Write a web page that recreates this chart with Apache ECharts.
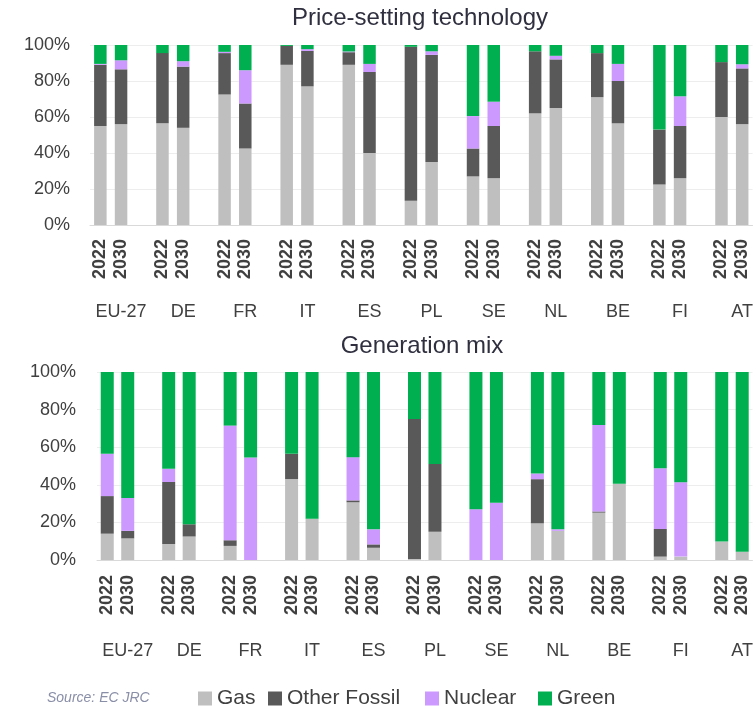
<!DOCTYPE html>
<html>
<head>
<meta charset="utf-8">
<style>
html,body{margin:0;padding:0;background:#fff;}
#chart{width:756px;height:708px;}
</style>
<script src="https://cdn.jsdelivr.net/npm/echarts@6/dist/echarts.min.js"></script>
</head>
<body>
<div id="chart"></div>
<script>
// ---- data ----
const countries = ['EU-27','DE','FR','IT','ES','PL','SE','NL','BE','FI','AT'];
const years = ['2022','2030'];
const seriesNames = ['Gas','Other Fossil','Nuclear','Green'];
const colors = ['#BFBFBF','#595959','#CC99FF','#00B050'];
const yTickLabels = ['0%','20%','40%','60%','80%','100%'];

// Price-setting technology (each pair: 2022, 2030 per country)
const priceGas     = [55,56, 56.5,54, 72.5,42.5, 89,77, 89,40, 13.5,35, 27,26, 62,65, 71,56.5, 22.5,26, 60,56];
const priceOther   = [34,30.5, 39,34, 23,25, 10.5,19.7, 7,45, 85.5,59.5, 15.5,29, 34.5,27, 24.5,23.5, 30.5,29, 30.5,31];
const priceNuclear = [0.5,5, 0,3, 0.7,18.5, 0,1, 0.4,4.5, 0,2, 18,13.5, 0,2, 0,9.5, 0,16.5, 0,2.3];
const priceGreen   = [10.5,8.5, 4.5,9, 3.8,14, 0.5,2.3, 3.6,10.5, 1,3.5, 39.5,31.5, 3.5,6, 4.5,10.5, 47,28.5, 9.5,10.7];

// Generation mix
const genGas     = [14,11.5, 8.5,12.5, 7.5,0, 43,22, 30.7,6.5, 0.5,15, 0,0, 19.5,15.5, 25.2,40.5, 1.8,1.8, 9.8,4.4];
const genOther   = [20,4, 33,6.5, 3,0, 13.5,0, 1,1.8, 74.5,36, 0,0, 23.5,0, 0.6,0, 14.7,0, 0,0];
const genNuclear = [22.5,17.5, 7,0, 61,54.5, 0,0, 23,8, 0,0, 27,30.5, 3,0.8, 46,0, 32.3,39.6, 0,0];
const genGreen   = [43.5,67, 51.5,81, 28.5,45.5, 43.5,78, 45.3,83.7, 25,49, 73,69.5, 54,83.7, 28.2,59.5, 51.2,58.6, 90.2,95.6];

// ---- build slot categories (2022, 2030, gap) ----
const slots = [];
countries.forEach((c, i) => {
  years.forEach(y => slots.push(c + '|' + y));
  if (i < countries.length - 1) slots.push('gap' + i);
});
function toSlots(arr) {
  const out = [];
  countries.forEach((c, i) => {
    out.push(arr[2 * i], arr[2 * i + 1]);
    if (i < countries.length - 1) out.push('-');
  });
  return out;
}
const FONT = "'Liberation Sans', Arial, sans-serif";
const TXT = '#404040';

const grids = [
  {left: 90, right: 2, top: 45, height: 180},
  {left: 97, right: 1, top: 372, height: 188}
];
const yearMargins = [14, 15];
const countryMargins = [78, 82];
const yMargins = [20, 21];
const barWidths = [12.5, 13];

const xAxes = [], yAxes = [];
grids.forEach((g, gi) => {
  xAxes.push({
    type: 'category', gridIndex: gi, data: slots,
    axisLine: {show: true, lineStyle: {color: '#D9D9D9'}},
    axisTick: {show: false},
    axisLabel: {
      interval: 0, rotate: 90, margin: yearMargins[gi],
      fontFamily: FONT, fontSize: 18, fontWeight: 'bold', color: TXT,
      formatter: v => v.indexOf('|') >= 0 ? v.split('|')[1] : ''
    }
  });
  xAxes.push({
    type: 'category', gridIndex: gi, data: slots, position: 'bottom',
    axisLine: {show: false}, axisTick: {show: false},
    axisLabel: {
      interval: 0, margin: countryMargins[gi],
      fontFamily: FONT, fontSize: 18, color: TXT,
      formatter: v => (v.indexOf('|') >= 0 && v.split('|')[1] === '2030') ? v.split('|')[0] : ''
    }
  });
  yAxes.push({
    type: 'value', gridIndex: gi, min: 0, max: 100, interval: 20,
    axisLine: {show: false}, axisTick: {show: false},
    splitLine: {show: true, lineStyle: {color: '#EDEDED', width: 1}},
    axisLabel: {
      margin: yMargins[gi], fontFamily: FONT, fontSize: 18, color: TXT,
      formatter: v => yTickLabels[Math.round(v / 20)]
    }
  });
});

const dataSets = [
  [priceGas, priceOther, priceNuclear, priceGreen],
  [genGas, genOther, genNuclear, genGreen]
];
const series = [];
dataSets.forEach((set, gi) => {
  set.forEach((arr, si) => {
    series.push({
      name: seriesNames[si], type: 'bar', stack: 'g' + gi,
      xAxisIndex: gi * 2, yAxisIndex: gi,
      barWidth: barWidths[gi],
      itemStyle: {color: colors[si]},
      emphasis: {disabled: true},
      data: toSlots(arr)
    });
  });
});

const legendLefts = [198, 268, 425, 538];
const legends = seriesNames.map((n, i) => ({
  data: [n],
  left: legendLefts[i] - 5, top: 683,
  itemWidth: 14, itemHeight: 14,
  icon: 'rect',
  textStyle: {fontFamily: FONT, fontSize: 21, color: TXT}
}));

const chart = echarts.init(document.getElementById('chart'), null, {renderer: 'canvas'});
chart.setOption({
  animation: false,
  backgroundColor: '#ffffff',
  grid: grids,
  xAxis: xAxes,
  yAxis: yAxes,
  series: series,
  legend: legends,
  graphic: [
    {type: 'text', x: 420, y: 18,
     style: {text: 'Price-setting technology', textAlign: 'center', textVerticalAlign: 'middle',
             font: "24px 'Liberation Sans', Arial, sans-serif", fill: '#2f2f3f'}},
    {type: 'text', x: 422, y: 346,
     style: {text: 'Generation mix', textAlign: 'center', textVerticalAlign: 'middle',
             font: "24px 'Liberation Sans', Arial, sans-serif", fill: '#2f2f3f'}},
    {type: 'text', x: 47, y: 698,
     style: {text: 'Source: EC JRC', textAlign: 'left', textVerticalAlign: 'middle',
             font: "italic 14px 'Liberation Sans', Arial, sans-serif", fill: '#8a8fa8'}}
  ]
});
</script>
</body>
</html>
